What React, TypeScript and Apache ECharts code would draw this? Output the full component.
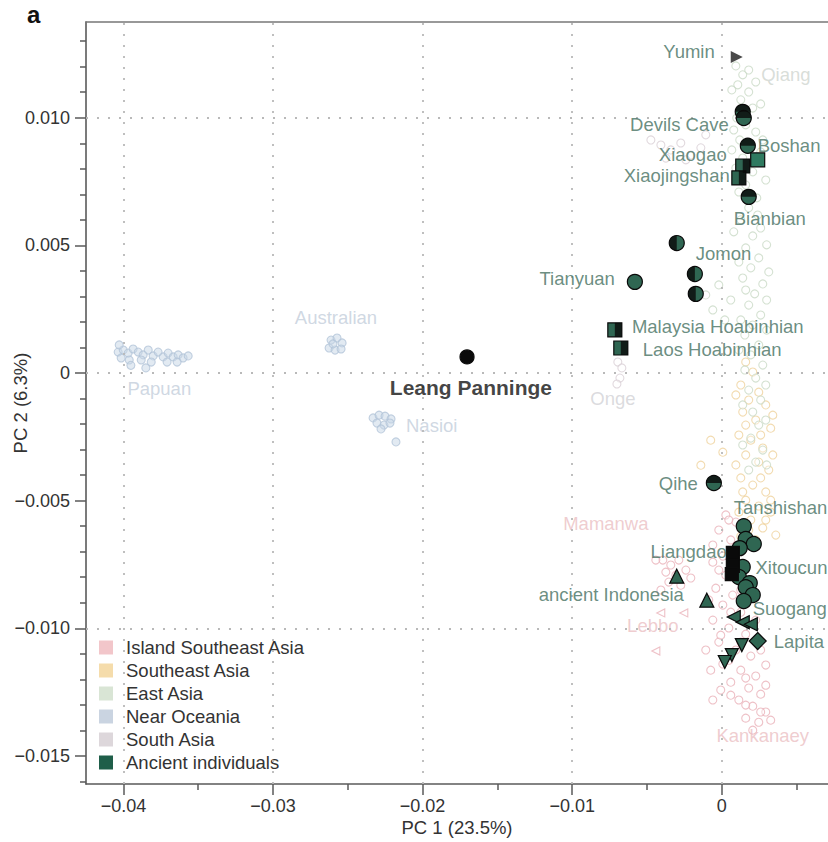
import React, { useEffect, useRef } from 'react';
import * as echarts from 'echarts';

const FONT = "'Liberation Sans', Arial, Helvetica, sans-serif";

// ---- axis ticks ----
const xMajorTicks = [-0.04, -0.03, -0.02, -0.01, 0];
const xMinorTicks = [-0.035, -0.025, -0.015, -0.005, 0.005];
const yMajorTicks = [-0.015, -0.01, -0.005, 0, 0.005, 0.01];
const yMinorTicks = [-0.016, -0.014, -0.013, -0.012, -0.011, -0.009, -0.008, -0.007, -0.006, -0.004, -0.003, -0.002, -0.001, 0.001, 0.002, 0.003, 0.004, 0.006, 0.007, 0.008, 0.009, 0.011, 0.012, 0.013];

// ---- modern populations ----
const papuan = [[-0.04035, 0.00082], [-0.04001, 0.0009], [-0.03968, 0.00078], [-0.03935, 0.00094], [-0.03901, 0.00082], [-0.03868, 0.00071], [-0.03834, 0.0009], [-0.03801, 0.00067], [-0.03768, 0.00082], [-0.03734, 0.00063], [-0.03701, 0.00078], [-0.03667, 0.00063], [-0.03634, 0.00071], [-0.03601, 0.00059], [-0.03567, 0.00067], [-0.04015, 0.00059], [-0.03961, 0.00051], [-0.03881, 0.00051], [-0.03814, 0.00043], [-0.03708, 0.00043], [-0.03641, 0.00043], [-0.04028, 0.0011], [-0.0395, 0.0003], [-0.0385, 0.0002]];
const australian = [[-0.02612, 0.00129], [-0.02572, 0.00137], [-0.02538, 0.00118], [-0.02625, 0.00098], [-0.02585, 0.0009], [-0.02545, 0.00094], [-0.02599, 0.00114]];
const nasioi = [[-0.02331, -0.00176], [-0.02291, -0.00165], [-0.02251, -0.00169], [-0.02211, -0.0018], [-0.02305, -0.00196], [-0.02258, -0.00204], [-0.02218, -0.00196], [-0.02278, -0.00219], [-0.02178, -0.0027]];
const southAsia = [[-0.00695, 0.00043], [-0.00668, 0.0002], [-0.00681, -0.0002], [-0.00701, -0.00043], [-0.00474, 0.00913], [-0.00407, 0.00893], [-0.00341, 0.00874], [-0.00274, 0.00901], [-0.00207, 0.00854], [-0.0014, 0.00882], [-0.00374, 0.00842], [-0.0024, 0.00835], [-0.00107, 0.00933]];
const eastAsia = [[0.00094, 0.01203], [0.0014, 0.01168], [0.00107, 0.01129], [0.0018, 0.01101], [0.00127, 0.0107], [0.00207, 0.01038], [0.001, 0.00999], [0.0016, 0.00972], [0.00227, 0.00944], [0.0012, 0.00913], [0.00194, 0.00882], [0.0026, 0.00866], [0.0014, 0.00842], [0.00094, 0.00803], [0.00207, 0.00788], [0.0016, 0.00737], [0.00114, 0.00709], [0.00234, 0.00686], [0.0018, 0.00647], [0.00127, 0.006], [0.0026, 0.00568], [0.00207, 0.00537], [0.0016, 0.0049], [0.00247, 0.00451], [0.00194, 0.00412], [0.0014, 0.00372], [0.00274, 0.00349], [0.0022, 0.0031], [0.0018, 0.00266], [0.0026, 0.00227], [0.00207, 0.00188], [0.00154, 0.00149], [0.00247, 0.0011], [0.00194, 0.00071], [0.00274, 0.00031], [0.00227, -0.0002], [0.0018, -0.00067], [0.0026, -0.00106], [0.00207, -0.00153], [0.00247, -0.00204], [0.00194, -0.00255], [0.00274, -0.00302], [0.00227, -0.00349], [0.0018, -0.0038], [-0.00107, 0.00306], [-0.0002, 0.00345], [-0.0006, 0.00247], [0.0002, 0.00208], [0.0006, 0.00286],
  [0.0018, 0.01187], [0.00227, 0.0114], [0.00067, 0.01109], [0.0026, 0.01054], [0.0008, 0.00952], [0.00274, 0.00913], [0.00067, 0.00874], [0.00294, 0.00756], [0.0024, 0.00619], [0.0008, 0.00553], [0.003, 0.00502], [0.00114, 0.00435], [0.00314, 0.00396], [0.0016, 0.00325], [0.003, 0.00286], [0.00127, 0.00208], [0.003, 0.00168], [0.00114, 0.0009], [0.00154, 0.00012], [0.00294, -0.00047], [0.0014, -0.00125], [0.00294, -0.00184], [0.0014, -0.00282], [0.003, -0.0036]];
const southeastAsia = [[0.0016, 0.00043], [0.00207, 0.00004], [0.00127, -0.00047], [0.00247, -0.00075], [0.0018, -0.00106], [0.00294, -0.00125], [0.0014, -0.00153], [0.00227, -0.00184], [0.00327, -0.00216], [0.00114, -0.00243], [0.00194, -0.00263], [0.00274, -0.00294], [0.0016, -0.00321], [0.00247, -0.00349], [0.00314, -0.0038], [0.00127, -0.00411], [0.00207, -0.00439], [0.00294, -0.00466], [0.0016, -0.00498], [0.00247, -0.00521], [0.00327, -0.00545], [0.00194, -0.00576], [0.00274, -0.00607], [0.00127, -0.00639], [0.00227, -0.00654], [-0.00074, -0.00263], [0.00007, -0.0031], [-0.0014, -0.00361],
  [0.00094, -0.00086], [0.00341, -0.00165], [0.0016, -0.00204], [0.0026, -0.00243], [0.00341, -0.00321], [0.00094, -0.0036], [0.0026, -0.00411], [0.0014, -0.00466], [0.00327, -0.00498], [0.00114, -0.00545], [0.00294, -0.00576], [0.0018, -0.00615], [0.00361, -0.00635]];
const islandSEAsia = [[0.00027, -0.00556], [0.00094, -0.00584], [-0.0002, -0.00615], [0.0006, -0.00654], [0.00127, -0.00686], [0.00007, -0.00717], [-0.0006, -0.00741], [0.00094, -0.00752], [0.00027, -0.00792], [0.0016, -0.00811], [-0.0004, -0.00843], [0.00073, -0.0087], [0.00007, -0.00909], [0.00127, -0.00937], [-0.0006, -0.00968], [0.00047, -0.00999], [0.0016, -0.01023], [-0.0002, -0.01054], [0.00094, -0.01085], [0.00194, -0.01109], [0.00007, -0.0114], [0.00127, -0.01164], [0.00227, -0.01187], [0.0006, -0.01211], [0.0018, -0.01234], [0.0026, -0.01258], [0.00114, -0.01281], [0.00207, -0.01305], [0.00294, -0.01328], [0.0016, -0.01352], [0.00247, -0.01368], [-0.00074, -0.01164], [-0.00007, -0.01242], [-0.00107, -0.01085], [-0.0006, -0.01281],
  [0.00047, -0.00576], [0.0016, -0.00615], [-0.0006, -0.00674], [-0.0002, -0.00772], [0.00127, -0.00851], [-0.00087, -0.00889], [0.0006, -0.00937], [0.00227, -0.00968], [-0.00007, -0.01027], [0.00127, -0.01054], [0.0026, -0.01085], [0.00047, -0.01125], [0.00294, -0.01144], [0.0016, -0.01195], [0.00294, -0.01223], [0.0006, -0.01262], [0.0016, -0.01301], [0.0026, -0.01328], [0.00327, -0.0136], [0.00207, -0.01399]];
const mamanwa = [[-0.00394, -0.00733], [-0.00341, -0.00752], [-0.00287, -0.00733], [-0.00374, -0.0078], [-0.00307, -0.00792], [-0.0024, -0.00772], [-0.00354, -0.00819], [-0.00274, -0.00831], [-0.00207, -0.00803], [-0.00441, -0.00733], [-0.00407, -0.0085]];
const lebbo = [[-0.00408, -0.0094], [-0.00254, -0.0094], [-0.00441, -0.01089]];

// ---- ancient individuals ----
const ancientGreenCircles = [[-0.00581, 0.00357], [0.00147, -0.006], [0.0016, -0.0065], [0.00214, -0.0067], [0.0012, -0.00686], [0.0014, -0.0076], [0.00114, -0.00799], [0.00187, -0.00823], [0.0016, -0.00839], [0.00207, -0.0087], [0.00147, -0.00893]];
const ancientBlackCircles = [[-0.01703, 0.00063]];
const ancientHalfLeftCircles = [[-0.00301, 0.00509], [-0.0018, 0.00388], [-0.00174, 0.0031]];
const ancientHalfTopCircles = [[0.0014, 0.01023], [0.00147, 0.00999], [0.00174, 0.0089], [0.0018, 0.0069], [-0.00053, -0.00431]];
const ancientHalfSquares = [[0.0014, 0.00811], [0.00114, 0.00764], [-0.00715, 0.00169], [-0.00675, 0.00098]];
const ancientGreenSquares = [[0.0024, 0.00835]];
const ancientBlackSquares = [[0.00074, -0.00705], [0.00074, -0.00756], [0.00067, -0.00788]];
const ancientUpTriangles = [[-0.00301, -0.00796], [-0.001, -0.0089]];
const ancientLeftTriangles = [[0.0008, -0.00956], [0.0014, -0.00976], [0.00194, -0.00984]];
const ancientDownTriangles = [[0.00134, -0.01066], [0.00067, -0.01105], [0.0002, -0.01132]];
const ancientDiamonds = [[0.0024, -0.0105]];
const yuminPoint = [[0.001, 0.01238]];

// ---- labels ----
const ancientLabels = [
  { name: 'Yumin', x: -0.00047, y: 0.01258, align: 'right' },
  { name: 'Devils Cave', x: 0.00047, y: 0.00972, align: 'right' },
  { name: 'Boshan', x: 0.0024, y: 0.00893, align: 'left' },
  { name: 'Xiaogao', x: 0.00033, y: 0.00854, align: 'right' },
  { name: 'Xiaojingshan', x: 0.00053, y: 0.00772, align: 'right' },
  { name: 'Bianbian', x: 0.0008, y: 0.00607, align: 'left' },
  { name: 'Jomon', x: -0.00174, y: 0.0047, align: 'left' },
  { name: 'Tianyuan', x: -0.00715, y: 0.00372, align: 'right' },
  { name: 'Malaysia Hoabinhian', x: -0.00601, y: 0.00184, align: 'left' },
  { name: 'Laos Hoabinhian', x: -0.00528, y: 0.00094, align: 'left' },
  { name: 'Qihe', x: -0.0016, y: -0.00431, align: 'right' },
  { name: 'Tanshishan', x: 0.0008, y: -0.00525, align: 'left' },
  { name: 'Liangdao', x: 0.00033, y: -0.00698, align: 'right' },
  { name: 'Xitoucun', x: 0.00225, y: -0.0076, align: 'left' },
  { name: 'ancient Indonesia', x: -0.00254, y: -0.00866, align: 'right' },
  { name: 'Suogang', x: 0.00207, y: -0.00921, align: 'left' },
  { name: 'Lapita', x: 0.00347, y: -0.0105, align: 'left' },
];
const regionLabels = [
  { name: 'Qiang', x: 0.00428, y: 0.01168, align: 'center', color: '#cfd5cf' },
  { name: 'Onge', x: -0.00728, y: -0.00098, align: 'center', color: '#d2d2d6' },
  { name: 'Mamanwa', x: -0.00775, y: -0.00588, align: 'center', color: '#ebbfc3' },
  { name: 'Lebbo', x: -0.00461, y: -0.00988, align: 'center', color: '#ebbfc3' },
  { name: 'Kankanaey', x: 0.00274, y: -0.01419, align: 'center', color: '#ebbfc3' },
  { name: 'Papuan', x: -0.0376, y: -0.00059, align: 'center', color: '#c3cedb' },
  { name: 'Australian', x: -0.02579, y: 0.00216, align: 'center', color: '#c3cedb' },
  { name: 'Nasioi', x: -0.02111, y: -0.00204, align: 'left', color: '#c3cedb' },
];
const focusLabel = { name: 'Leang Panninge', x: -0.01677, y: -0.00055 };

const legendItems = [
  { name: 'Island Southeast Asia', color: '#f2c6ca' },
  { name: 'Southeast Asia', color: '#f5dcab' },
  { name: 'East Asia', color: '#d9e5d5' },
  { name: 'Near Oceania', color: '#cad4e1' },
  { name: 'South Asia', color: '#ddd7db' },
  { name: 'Ancient individuals', color: '#1f5e49' },
];

const GREEN = '#2f6652';
const HALF_LEFT = 'path://M10 0A10 10 0 0 0 10 20ZM20 20L20 20';
const HALF_TOP = 'path://M0 10A10 10 0 0 1 20 10ZM20 20L20 20';
const HALF_RIGHT_SQ = 'path://M10 0H20V20H10ZM0 0L0 0';

function modern(name: string, data: number[][], border: string, fill: string, symbol = 'circle', rotate = 0) {
  return {
    type: 'scatter', name, data, symbol, symbolSize: 8, symbolRotate: rotate, z: 2,
    itemStyle: { color: fill, borderColor: border, borderWidth: 1.1 },
  };
}
function ancient(data: number[][], symbol: string, size: number, color: string, rotate = 0, border = 1.2) {
  return {
    type: 'scatter', name: 'Ancient individuals', data, symbol, symbolSize: size, symbolRotate: rotate, z: 5,
    itemStyle: { color, borderColor: '#0b0b0b', borderWidth: border, opacity: 1 },
  };
}
function overlay(data: number[][], symbol: string, size: number) {
  return {
    type: 'scatter', name: 'Ancient individuals', data, symbol, symbolSize: size, z: 6,
    itemStyle: { color: '#0a0a0a', borderWidth: 0 },
  };
}

const fmtX = (v: number) => (Math.abs(v) < 1e-9 ? '0' : v.toFixed(2).replace('-', '\u2212'));
const fmtY = (v: number) => (Math.abs(v) < 1e-9 ? '0' : v.toFixed(3).replace('-', '\u2212'));

const gridMarks = [
  ...xMajorTicks.map((v) => ({ xAxis: v })),
  ...yMajorTicks.map((v) => ({ yAxis: v })),
];

const AXIS_COLOR = '#5a5a5a';

const option: any = {
  animation: false,
  textStyle: { fontFamily: FONT },
  grid: { left: 86, right: 0, top: 22, bottom: 58, containLabel: false, outerBoundsMode: 'none' },
  xAxis: [
    {
      type: 'value', min: -0.0425, max: 0.0071, position: 'bottom',
      name: 'PC 1 (23.5%)', nameLocation: 'middle', nameGap: 34, nameMoveOverlap: false,
      nameTextStyle: { fontSize: 18.5, color: '#333', fontFamily: FONT },
      axisLine: { show: true, onZero: false, lineStyle: { color: AXIS_COLOR, width: 1.6 } },
      axisTick: { show: true, length: 11, customValues: xMajorTicks, lineStyle: { color: AXIS_COLOR, width: 1.5 } },
      axisLabel: { customValues: xMajorTicks, formatter: fmtX, fontSize: 18, color: '#333', margin: 13, fontFamily: FONT },
      splitLine: { show: false },
    },
    {
      type: 'value', min: -0.0425, max: 0.0071, position: 'bottom',
      axisLine: { show: false, onZero: false },
      axisTick: { show: true, length: 6, customValues: xMinorTicks, lineStyle: { color: AXIS_COLOR, width: 1.5 } },
      axisLabel: { show: false },
      splitLine: { show: false },
    },
    {
      type: 'value', min: -0.0425, max: 0.0071, position: 'top',
      axisLine: { show: true, onZero: false, lineStyle: { color: '#777', width: 1.6 } },
      axisTick: { show: false }, axisLabel: { show: false }, splitLine: { show: false },
    },
  ],
  yAxis: [
    {
      type: 'value', min: -0.0161, max: 0.01375, position: 'left',
      name: 'PC 2 (6.3%)', nameLocation: 'middle', nameGap: 56, nameMoveOverlap: false,
      nameTextStyle: { fontSize: 18.5, color: '#333', fontFamily: FONT },
      axisLine: { show: true, onZero: false, lineStyle: { color: AXIS_COLOR, width: 1.6 } },
      axisTick: { show: true, length: 11, customValues: yMajorTicks, lineStyle: { color: AXIS_COLOR, width: 1.5 } },
      axisLabel: { customValues: yMajorTicks, formatter: fmtY, fontSize: 18, color: '#333', margin: 16, fontFamily: FONT },
      splitLine: { show: false },
    },
    {
      type: 'value', min: -0.0161, max: 0.01375, position: 'left',
      axisLine: { show: false, onZero: false },
      axisTick: { show: true, length: 6, customValues: yMinorTicks, lineStyle: { color: AXIS_COLOR, width: 1.5 } },
      axisLabel: { show: false },
      splitLine: { show: false },
    },
  ],
  legend: {
    orient: 'vertical', left: 95, top: 636,
    itemWidth: 14, itemHeight: 14, itemGap: 4,
    backgroundColor: '#ffffff', padding: [2, 8, 4, 4],
    textStyle: { fontSize: 18.5, color: '#333', fontFamily: FONT, padding: [0, 0, 0, 8] },
    selectedMode: false,
    data: legendItems.map((l) => ({ name: l.name, icon: 'rect', itemStyle: { color: l.color, borderWidth: 0, opacity: 1 } })),
  },
  graphic: [
    { type: 'text', left: 27, top: 2, style: { text: 'a', fontSize: 24, fontWeight: 'bold', fill: '#111', fontFamily: FONT } },
  ],
  series: [
    {
      ...modern('Island Southeast Asia', [...islandSEAsia, ...mamanwa], '#eab2b9', 'rgba(255,255,255,0.45)'),
      markLine: {
        silent: true, symbol: ['none', 'none'], label: { show: false },
        lineStyle: { type: [2, 9], color: '#b9b9b9', width: 1.8 },
        data: gridMarks,
      },
    },
    modern('Island Southeast Asia', lebbo, '#eab2b9', 'rgba(255,255,255,0.45)', 'triangle', 90),
    modern('Southeast Asia', southeastAsia, '#efd29c', 'rgba(255,255,255,0.45)'),
    modern('East Asia', eastAsia, '#c9dac5', 'rgba(255,255,255,0.45)'),
    modern('Near Oceania', [...papuan, ...australian, ...nasioi], '#b3c4d8', 'rgba(200,214,230,0.65)'),
    modern('South Asia', southAsia, '#d9cfd6', 'rgba(255,255,255,0.45)'),
    {
      type: 'scatter', name: 'regionLabels', symbolSize: 1, z: 3,
      itemStyle: { color: 'rgba(0,0,0,0)' },
      label: { show: true, position: 'inside', formatter: '{b}', fontSize: 18.5, fontFamily: FONT, verticalAlign: 'middle' },
      data: regionLabels.map((l) => ({ name: l.name, value: [l.x, l.y], label: { align: l.align, color: l.color } })),
    },
    ancient(ancientGreenCircles, 'circle', 15, GREEN),
    ancient(ancientBlackCircles, 'circle', 14, '#0a0a0a'),
    ancient(ancientHalfLeftCircles, 'circle', 15, GREEN),
    overlay(ancientHalfLeftCircles, HALF_LEFT, 15),
    ancient(ancientHalfTopCircles, 'circle', 15, GREEN),
    overlay(ancientHalfTopCircles, HALF_TOP, 15),
    ancient(ancientHalfSquares, 'rect', 14, GREEN),
    overlay(ancientHalfSquares, HALF_RIGHT_SQ, 14),
    ancient(ancientGreenSquares, 'rect', 14, '#2f7a60'),
    ancient(ancientBlackSquares, 'rect', 13, '#0a0a0a'),
    ancient(ancientUpTriangles, 'triangle', 14, GREEN),
    ancient(ancientLeftTriangles, 'triangle', 13, GREEN, 90),
    ancient(ancientDownTriangles, 'triangle', 13, GREEN, 180),
    ancient(ancientDiamonds, 'diamond', 17, GREEN),
    ancient(yuminPoint, 'triangle', 12, '#4a4a4a', -90, 0),
    {
      type: 'scatter', name: 'ancientLabels', symbolSize: 1, z: 8,
      itemStyle: { color: 'rgba(0,0,0,0)' },
      label: { show: true, position: 'inside', formatter: '{b}', fontSize: 18.5, fontFamily: FONT, color: '#45705f', verticalAlign: 'middle' },
      data: [
        ...ancientLabels.map((l) => ({ name: l.name, value: [l.x, l.y], label: { align: l.align } })),
        { name: focusLabel.name, value: [focusLabel.x, focusLabel.y], label: { align: 'center', color: '#111', fontWeight: 'bold', fontSize: 21 } },
      ],
    },
  ],
};

export default function App() {
  const ref = useRef<HTMLDivElement>(null);
  useEffect(() => {
    const chart = echarts.init(ref.current as HTMLDivElement, null, { renderer: 'svg' });
    chart.setOption(option);
    return () => chart.dispose();
  }, []);
  return <div ref={ref} style={{ position: 'fixed', left: 0, top: 0, width: 828, height: 842, background: '#fff' }} />;
}
